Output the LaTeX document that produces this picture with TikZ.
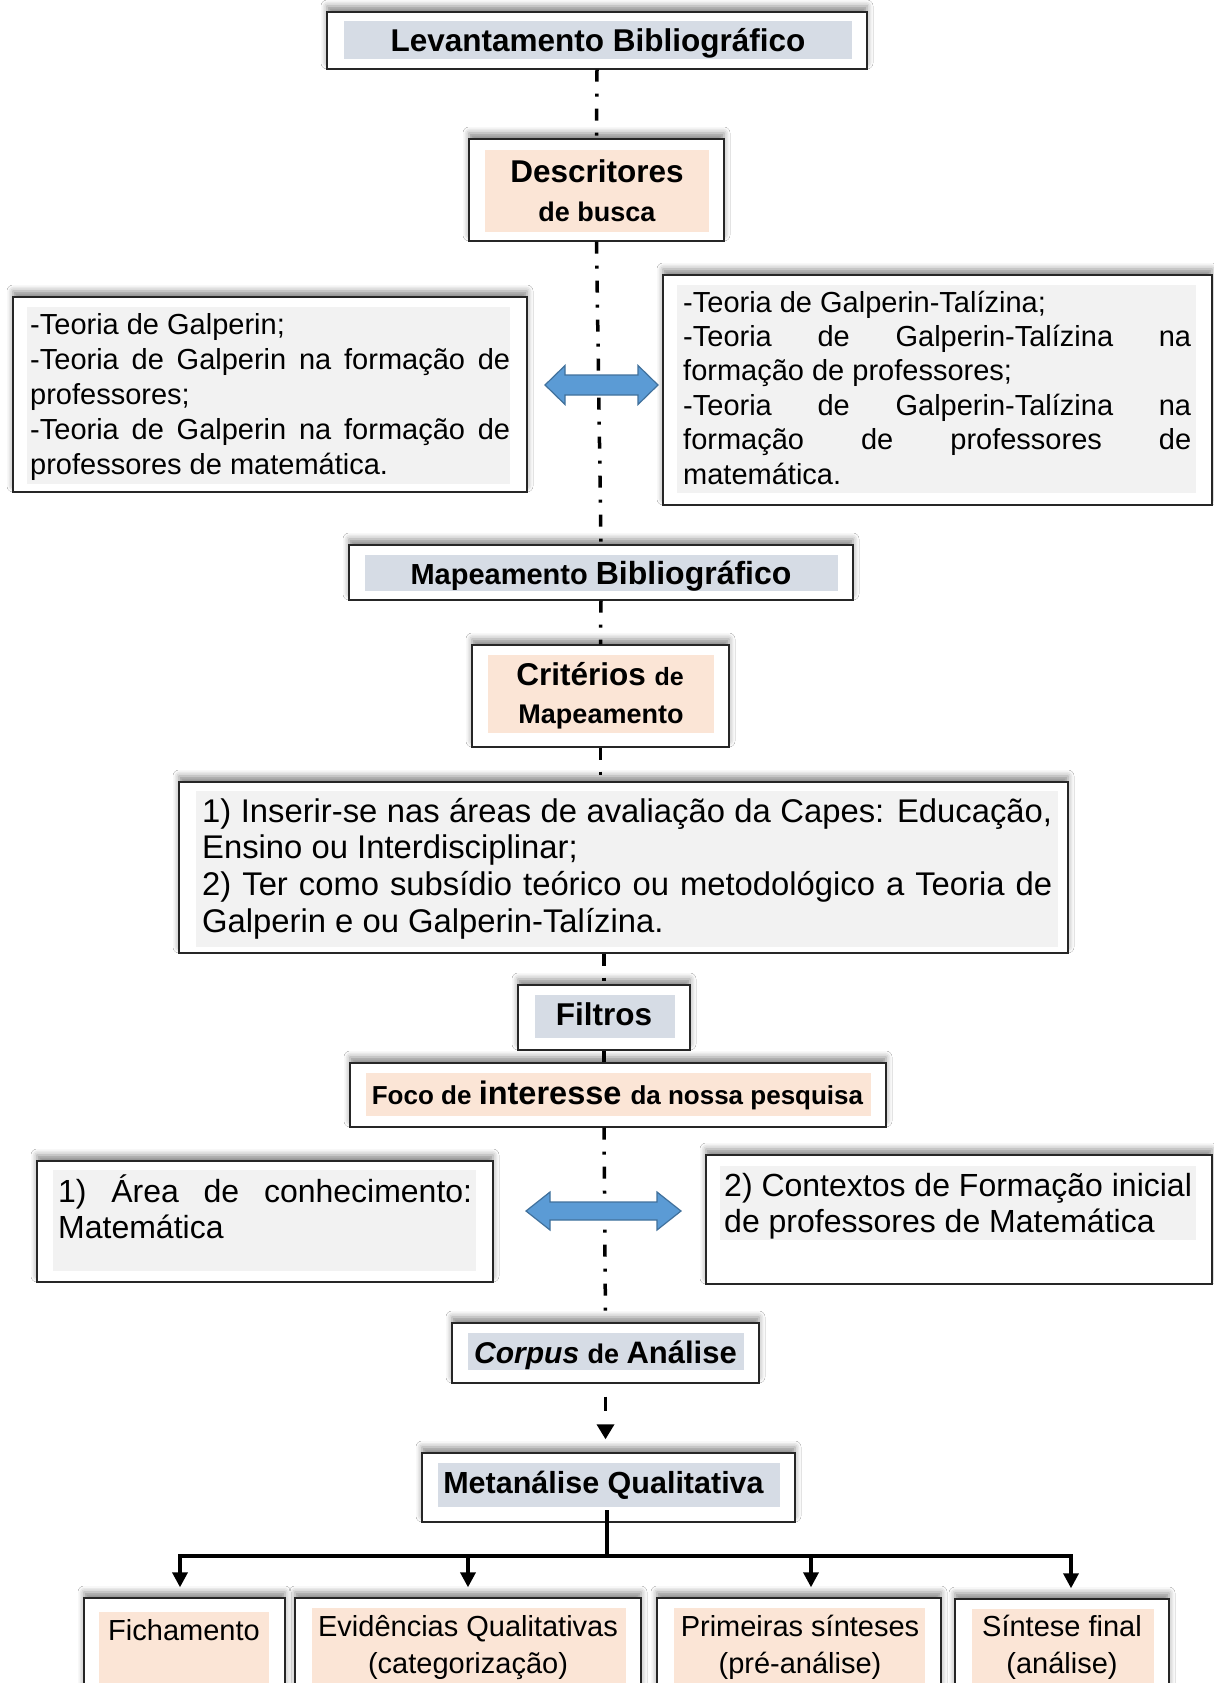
\documentclass[tikz,border=0pt]{standalone}
\usepackage{fontspec}
\setmainfont{Liberation Sans}
\usetikzlibrary{arrows.meta,shadows.blur,fit}

\definecolor{hdblue}{HTML}{D6DCE5}
\definecolor{peach}{HTML}{FBE5D6}
\definecolor{txtgray}{HTML}{F2F2F2}
\definecolor{arrowblue}{HTML}{5B9BD5}
\definecolor{arrowedge}{HTML}{41719C}

\newcommand{\fsz}[2]{\fontsize{#1}{#2}\selectfont}
\newcommand{\jrow}[1]{\makebox[\linewidth][s]{#1}}

\tikzset{
  frame/.style={draw=black!85, line width=1.4pt, fill=white, inner sep=0pt,
    blur shadow={shadow xshift=0pt, shadow yshift=6pt, shadow blur radius=6pt, shadow opacity=45}},
  lbl/.style={anchor=base, inner sep=0pt},
  para/.style={anchor=base west, inner sep=0pt},
  spine/.style={line width=3.5pt, dash pattern=on 12pt off 12pt on 3pt off 12pt},
  cdash/.style={line width=3.5pt, dash pattern=on 14pt off 40pt,
    -{Triangle[length=15pt,width=17pt]}, shorten <=13pt, shorten >=13pt},
  tree/.style={line width=3.5pt, line join=miter},
  tip/.style={-{Triangle[length=15pt,width=15pt]}, shorten >=10pt},
  blockarrow/.style={fill=arrowblue, draw=arrowedge, line width=1.2pt, line join=miter}
}

\begin{document}
\begin{tikzpicture}[x=1pt, y=-1pt]
\useasboundingbox (0,0) rectangle (1214,1683);
\clip (0,0) rectangle (1214,1683);
\fill[white] (0,0) rectangle (1214,1683);

% ---- frames ----
\node[frame, fit={(327,12) (867,69)}] (lev) {};
\node[frame, fit={(469,139) (724,241)}] (desc) {};
\node[frame, fit={(13,297) (527,492)}] (left1) {};
\node[frame, fit={(663,275) (1212,505)}] (right1) {};
\node[frame, fit={(349,545) (853,600)}] (map) {};
\node[frame, fit={(472,645) (729,747)}] (crit) {};
\node[frame, fit={(179,782) (1068,953)}] (critbox) {};
\node[frame, fit={(518,985) (690,1050)}] (filt) {};
\node[frame, fit={(350,1063) (886,1127)}] (foco) {};
\node[frame, fit={(37,1161) (493,1282)}] (left2) {};
\node[frame, fit={(706,1155) (1212,1284)}] (right2) {};
\node[frame, fit={(452,1323) (759,1383)}] (corpus) {};
\node[frame, fit={(422,1453) (795,1522)}] (meta) {};
\node[frame, fit={(84,1598) (285,1720)}] (fich) {};
\node[frame, fit={(295,1598) (641,1720)}] (evid) {};
\node[frame, fit={(657,1598) (941,1720)}] (prim) {};
\node[frame, fit={(955,1599) (1169,1720)}] (sint) {};

% ---- inner highlight fills ----
\fill[hdblue] (344,21) rectangle (852,59);
\fill[peach] (485,150) rectangle (709,232);
\fill[txtgray] (27,307) rectangle (510,484);
\fill[txtgray] (677,285) rectangle (1196,493);
\fill[hdblue] (365,555) rectangle (838,591);
\fill[peach] (488,655) rectangle (714,733);
\fill[txtgray] (196,791) rectangle (1058,947);
\fill[hdblue] (535,995) rectangle (675,1038);
\fill[peach] (366,1073) rectangle (871,1116);
\fill[txtgray] (53,1170) rectangle (476,1271);
\fill[txtgray] (720,1166) rectangle (1196,1240);
\fill[hdblue] (468,1333) rectangle (744,1370);
\fill[hdblue] (438,1463) rectangle (780,1507);
\fill[peach] (99,1612) rectangle (269,1720);
\fill[peach] (312,1608) rectangle (626,1720);
\fill[peach] (674,1608) rectangle (925,1720);
\fill[peach] (972,1609) rectangle (1154,1720);

% ---- texts ----
\node[lbl, font=\bfseries\fsz{31.5}{36}] (levtxt) at (598,52) {Levantamento Bibliográfico};
\node[lbl, font=\bfseries\fsz{31.5}{36}] (desctxt) at (597,182) {Descritores};
\node[lbl, font=\bfseries\fsz{27}{32}] (desctxtb) at (597,221) {de busca};

\node[para] (left1txt) at (30,334) {\parbox[t]{480pt}{\fsz{29}{35}%
-Teoria de Galperin;\\
\jrow{-Teoria de Galperin na formação de}\\
professores;\\
\jrow{-Teoria de Galperin na formação de}\\
professores de matemática.}};

\node[para] (right1txt) at (683,312) {\parbox[t]{508pt}{\fsz{29}{34.4}%
-Teoria de Galperin-Talízina;\\
\jrow{-Teoria de Galperin-Talízina na}\\
formação de professores;\\
\jrow{-Teoria de Galperin-Talízina na}\\
\jrow{formação de professores de}\\
matemática.}};

\node[lbl, font=\bfseries] (maptxt) at (601,584) {\fsz{29}{34}Mapeamento \fsz{32}{36}Bibliográfico};
\node[lbl, font=\bfseries] (crittxt) at (600,685) {\fsz{31.5}{36}Critérios \fsz{25}{30}de};
\node[lbl, font=\bfseries\fsz{27}{32}] (crittxtb) at (601,723) {Mapeamento};

\node[para] (critboxtxt) at (202,822) {\parbox[t]{850pt}{\fsz{32.8}{36.9}%
\jrow{1) Inserir-se nas áreas de avaliação da Capes: Educação,}\\
Ensino ou Interdisciplinar;\\
\jrow{2) Ter como subsídio teórico ou metodológico a Teoria de}\\
Galperin e ou Galperin-Talízina.}};

\node[lbl, font=\bfseries\fsz{31.5}{36}] (filttxt) at (604,1025) {Filtros};
\node[lbl, font=\bfseries] (focotxt) at (617.5,1104) {\fsz{26}{30}Foco de \fsz{32.5}{36}interesse \fsz{26}{30}da nossa pesquisa};

\node[para] (left2txt) at (58,1202) {\parbox[t]{414pt}{\fsz{32}{36}%
\jrow{1) Área de conhecimento:}\\
Matemática}};
\node[para] (right2txt) at (724,1196) {\parbox[t]{480pt}{\fsz{32}{36}%
2) Contextos de Formação inicial\\
de professores de Matemática}};

\node[lbl, font=\bfseries] (corptxt) at (605.5,1363) {\fsz{30}{34}\textit{Corpus} \fsz{27}{32}de \fsz{31}{36}Análise};
\node[lbl, font=\bfseries\fsz{30.5}{35}] (metatxt) at (603.5,1493) {Metanálise Qualitativa};

\node[lbl, font=\fsz{29}{34}] (fichtxt) at (184,1640) {Fichamento};
\node[lbl, font=\fsz{29}{34}] (evidtxt) at (468,1636) {Evidências Qualitativas};
\node[lbl, font=\fsz{29}{34}] (evidtxtb) at (468,1673) {(categorização)};
\node[lbl, font=\fsz{29}{34}] (primtxt) at (800,1636) {Primeiras sínteses};
\node[lbl, font=\fsz{29}{34}] (primtxtb) at (800,1673) {(pré-análise)};
\node[lbl, font=\fsz{29}{34}] (sinttxt) at (1062,1636) {Síntese final};
\node[lbl, font=\fsz{29}{34}] (sinttxtb) at (1062,1673) {(análise)};

% ---- central dash-dot spine ----
\draw[spine] (lev.south) -- (desc.north);
\draw[spine] (desc.south) -- (map.north);
\draw[spine] (map.south) -- (crit.north);
\draw[spine] (crit.south) -- (crit.south |- critbox.north);
\draw[spine] (filt.north |- critbox.south) -- (filt.north);
\draw[spine] (filt.south) -- (filt.south |- foco.north);
\draw[spine] (filt.south |- foco.south) -- (corpus.north);
\draw[cdash] (corpus.south) -- (corpus.south |- meta.north);

% ---- double block arrows ----
\draw[blockarrow] (545,385) -- (565,365.5) -- (565,375) -- (638,375) -- (638,365.5)
  -- (658,385) -- (638,404.5) -- (638,395) -- (565,395) -- (565,404.5) -- cycle;
\draw[blockarrow] (526,1211) -- (550,1192) -- (550,1202) -- (657,1202) -- (657,1192)
  -- (681,1211) -- (657,1230) -- (657,1220) -- (550,1220) -- (550,1230) -- cycle;

% ---- bottom distribution tree ----
\coordinate (mqstem) at (607,1510);
\coordinate (a1) at (180,1556);
\coordinate (a2) at (468,1556);
\coordinate (a3) at (811,1556);
\coordinate (a4) at (1071,1556);
\draw[tree] (mqstem) -- (mqstem |- a1);
\draw[tree, {Triangle[length=15pt,width=15pt]}-{Triangle[length=15pt,width=15pt]},
  shorten <=10pt, shorten >=10pt] (a1 |- fich.north) -- (a1) -- (a4) -- (a4 |- sint.north);
\draw[tree, tip] (a2) -- (a2 |- evid.north);
\draw[tree, tip] (a3) -- (a3 |- prim.north);
\end{tikzpicture}
\end{document}
